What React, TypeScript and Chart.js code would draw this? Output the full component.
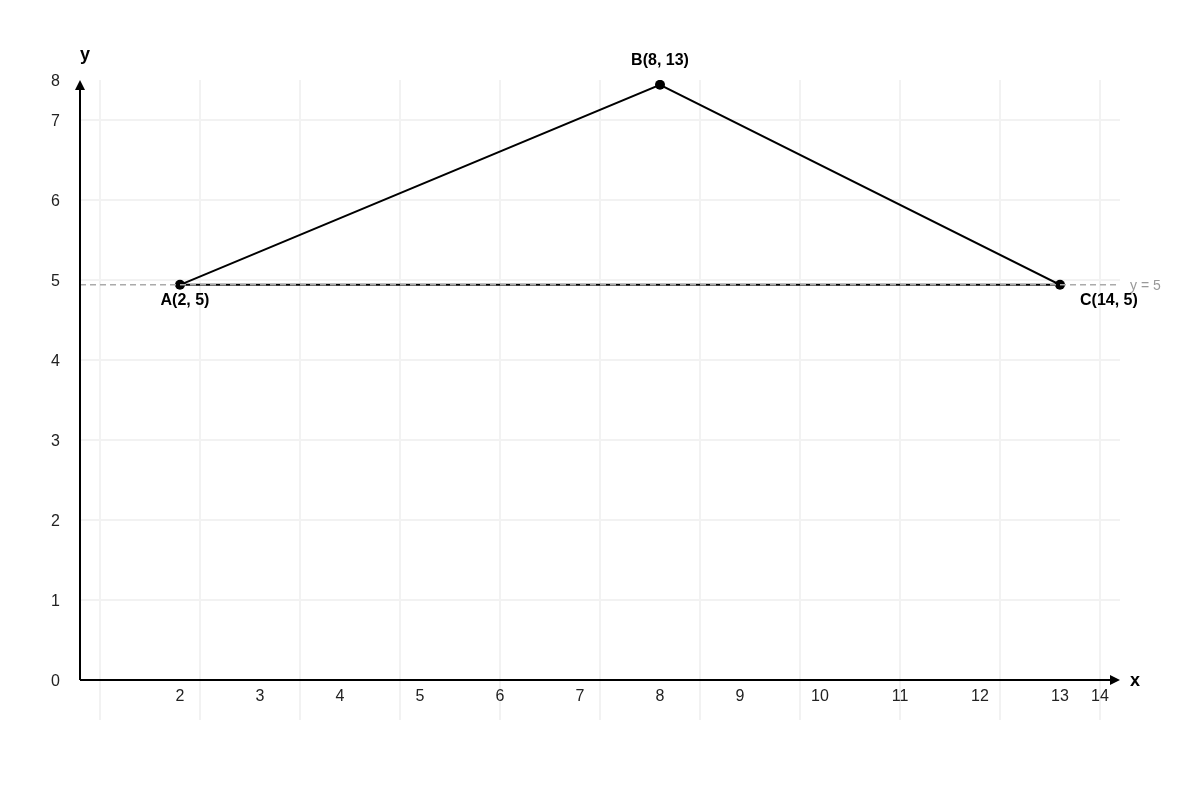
import React, { useEffect, useRef } from "react";
import { Chart, registerables } from "chart.js";

Chart.register(...registerables);

// Tick labels and the scale values they sit at
const xTickLabels = ["2", "3", "4", "5", "6", "7", "8", "9", "10", "11", "12", "13", "14"];
const xTickValues = [2, 3, 4, 5, 6, 7, 8, 9, 10, 11, 12, 13, 13.5];
const yTickLabels = ["0", "1", "2", "3", "4", "5", "6", "7", "8"];
const yTickValues = [0, 1, 2, 3, 4, 5, 6, 7, 7.5];

// Grid line values
const xGridValues = [1, 2.25, 3.5, 4.75, 6, 7.25, 8.5, 9.75, 11, 12.25, 13.5];
const yGridValues = [1, 2, 3, 4, 5, 6, 7];

// Triangle vertices
const pointNames = ["A(2, 5)", "B(8, 13)", "C(14, 5)"];
const pointX = [2, 8, 13];
const pointY = [4.94, 7.44, 4.94];

// Reference line
const refLineY = 4.94;
const refLineLabel = "y = 5";
const refLineX = [0.75, 13.7];

const X_MIN = 0.75;
const X_MAX = 13.75;
const Y_MIN = -0.5;
const Y_MAX = 7.5;

const FONT = "'Liberation Sans', Arial, Helvetica, sans-serif";

const overlayPlugin = {
  id: "overlay",
  afterDatasetsDraw(chart: any) {
    const ctx = chart.ctx;
    const xs = chart.scales.x;
    const ys = chart.scales.y;
    const area = chart.chartArea;
    const ox = xs.getPixelForValue(X_MIN);
    const oy = ys.getPixelForValue(0);
    ctx.save();
    // axes
    ctx.strokeStyle = "#000";
    ctx.fillStyle = "#000";
    ctx.lineWidth = 2;
    ctx.beginPath();
    ctx.moveTo(ox, oy);
    ctx.lineTo(ox, area.top + 8);
    ctx.moveTo(ox, oy);
    ctx.lineTo(area.right - 8, oy);
    ctx.stroke();
    // arrow heads
    ctx.beginPath();
    ctx.moveTo(ox, area.top);
    ctx.lineTo(ox - 5, area.top + 10);
    ctx.lineTo(ox + 5, area.top + 10);
    ctx.closePath();
    ctx.fill();
    ctx.beginPath();
    ctx.moveTo(area.right, oy);
    ctx.lineTo(area.right - 10, oy - 5);
    ctx.lineTo(area.right - 10, oy + 5);
    ctx.closePath();
    ctx.fill();
    // axis names
    ctx.font = `bold 18px ${FONT}`;
    ctx.textAlign = "center";
    ctx.textBaseline = "middle";
    ctx.fillText("y", ox + 5, area.top - 25);
    ctx.fillText("x", area.right + 15, oy + 1);
    // reference line label
    ctx.font = `14px ${FONT}`;
    ctx.fillStyle = "#999";
    ctx.textAlign = "left";
    ctx.fillText(refLineLabel, area.right + 10, ys.getPixelForValue(refLineY) + 1);
    // point labels
    const meta = chart.getDatasetMeta(1);
    const offsets = [
      { dx: 5, dy: 16, align: "center" },
      { dx: 0, dy: -24, align: "center" },
      { dx: 20, dy: 16, align: "left" },
    ];
    ctx.font = `bold 16px ${FONT}`;
    ctx.fillStyle = "#000";
    pointNames.forEach((name, i) => {
      const el = meta.data[i];
      const o = offsets[i];
      ctx.textAlign = o.align;
      ctx.fillText(name, el.x + o.dx, el.y + o.dy);
    });
    ctx.restore();
  },
};

export default function App() {
  const canvasRef = useRef<HTMLCanvasElement | null>(null);

  useEffect(() => {
    const canvas = canvasRef.current;
    if (!canvas) return;
    const triangle = pointX.map((x, i) => ({ x, y: pointY[i] }));
    triangle.push({ x: pointX[0], y: pointY[0] });
    const chart = new Chart(canvas, {
      type: "scatter",
      data: {
        datasets: [
          {
            type: "line",
            data: refLineX.map((x) => ({ x, y: refLineY })),
            borderColor: "#aaaaaa",
            borderWidth: 1.5,
            borderDash: [6, 4],
            pointRadius: 0,
            showLine: true,
            fill: false,
          },
          {
            type: "line",
            data: triangle,
            borderColor: "#000",
            borderWidth: 2,
            backgroundColor: "#000",
            pointBackgroundColor: "#000",
            pointBorderColor: "#000",
            pointRadius: [5, 5, 5, 0],
            pointBorderWidth: 0,
            showLine: true,
            fill: false,
            tension: 0,
          },
        ],
      },
      options: {
        responsive: false,
        animation: false,
        layout: { padding: { left: 80, right: 80, top: 80, bottom: 80 } },
        plugins: { legend: { display: false }, tooltip: { enabled: false } },
        scales: {
          x: {
            type: "linear",
            position: "bottom",
            min: X_MIN,
            max: X_MAX,
            afterBuildTicks: (s: any) => {
              s.ticks = xGridValues.map((v) => ({ value: v }));
            },
            ticks: { display: false },
            grid: { color: "#f2f2f2", lineWidth: 2, drawTicks: false },
            border: { display: false },
          },
          y: {
            type: "linear",
            position: "left",
            min: Y_MIN,
            max: Y_MAX,
            afterBuildTicks: (s: any) => {
              s.ticks = yGridValues.map((v) => ({ value: v }));
            },
            ticks: { display: false },
            grid: { color: "#f2f2f2", lineWidth: 2, drawTicks: false },
            border: { display: false },
          },
          xl: {
            type: "linear",
            axis: "x",
            position: { y: 0 },
            min: X_MIN,
            max: X_MAX,
            afterBuildTicks: (s: any) => {
              s.ticks = xTickValues.map((v) => ({ value: v }));
            },
            ticks: {
              autoSkip: false,
              maxRotation: 0,
              padding: 7,
              color: "#222",
              font: { size: 16, family: FONT },
              callback: (_v: any, i: number) => xTickLabels[i],
            },
            grid: { display: false, drawTicks: false },
            border: { display: false },
          },
          yl: {
            type: "linear",
            axis: "y",
            position: { x: 0.5 },
            min: Y_MIN,
            max: Y_MAX,
            afterBuildTicks: (s: any) => {
              s.ticks = yTickValues.map((v) => ({ value: v }));
            },
            ticks: {
              autoSkip: false,
              padding: 0,
              labelOffset: 2,
              color: "#222",
              font: { size: 16, family: FONT },
              callback: (_v: any, i: number) => yTickLabels[i],
            },
            grid: { display: false, drawTicks: false },
            border: { display: false },
          },
        },
      } as any,
      plugins: [overlayPlugin as any],
    });
    return () => chart.destroy();
  }, []);

  return (
    <div style={{ position: "absolute", left: 0, top: 0, width: 1200, height: 800, background: "#fff" }}>
      <canvas ref={canvasRef} width={1200} height={800} style={{ display: "block" }} />
    </div>
  );
}
